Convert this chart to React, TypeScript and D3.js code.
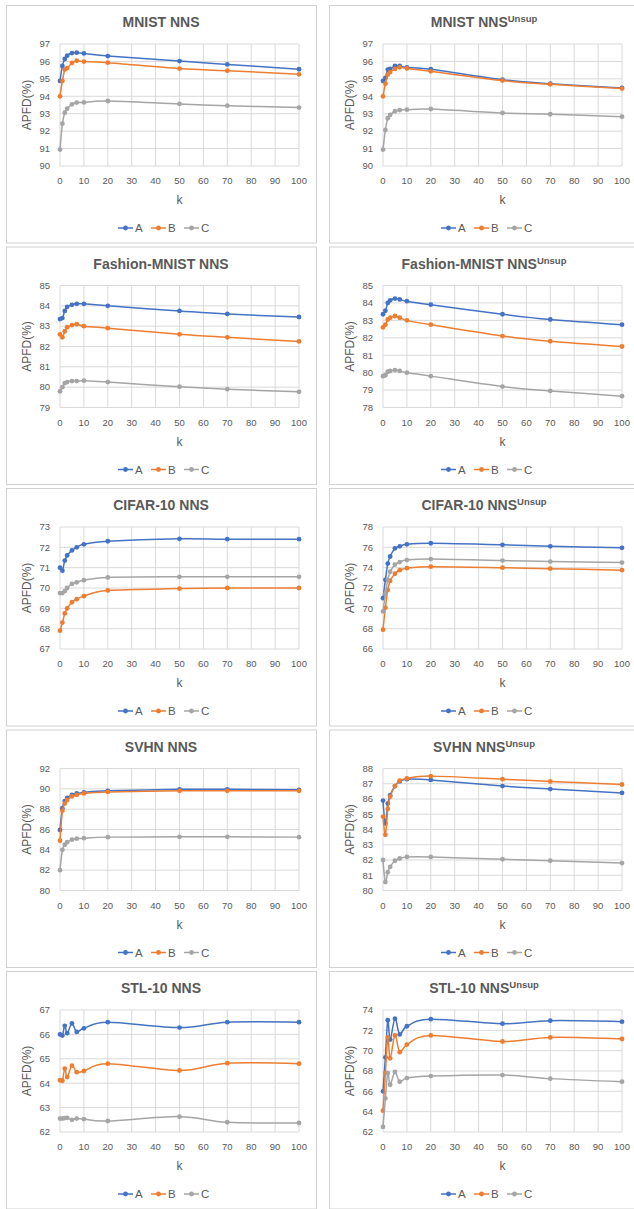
import React from "react";
import * as d3 from "d3";

// ---- data ----
const kValues = [0, 1, 2, 3, 5, 7, 10, 20, 50, 70, 100];
const seriesNames = ["A", "B", "C"];
const seriesColors = ["#4472C4", "#ED7D31", "#A5A5A5"];
const xTicks = [0, 10, 20, 30, 40, 50, 60, 70, 80, 90, 100];

const mnistNnsA = [94.88, 95.74, 96.14, 96.33, 96.48, 96.5, 96.46, 96.31, 96.02, 95.83, 95.55];
const mnistNnsB = [94.0, 94.88, 95.53, 95.62, 95.91, 96.04, 95.99, 95.93, 95.59, 95.47, 95.26];
const mnistNnsC = [90.94, 92.43, 93.06, 93.29, 93.54, 93.64, 93.65, 93.73, 93.56, 93.46, 93.35];

const mnistUnsA = [94.88, 95.05, 95.53, 95.57, 95.74, 95.74, 95.66, 95.55, 94.95, 94.72, 94.48];
const mnistUnsB = [94.0, 94.72, 95.24, 95.39, 95.57, 95.66, 95.6, 95.43, 94.9, 94.69, 94.44];
const mnistUnsC = [90.94, 92.07, 92.74, 92.93, 93.14, 93.21, 93.23, 93.27, 93.04, 92.97, 92.83];

const fashionNnsA = [83.35, 83.4, 83.75, 83.95, 84.05, 84.1, 84.1, 84.0, 83.75, 83.6, 83.45];
const fashionNnsB = [82.6, 82.45, 82.75, 82.95, 83.05, 83.1, 83.0, 82.9, 82.6, 82.45, 82.25];
const fashionNnsC = [79.8, 80.0, 80.2, 80.25, 80.3, 80.3, 80.32, 80.25, 80.02, 79.9, 79.77];

const fashionUnsA = [83.35, 83.55, 84.0, 84.15, 84.25, 84.2, 84.1, 83.9, 83.35, 83.05, 82.75];
const fashionUnsB = [82.6, 82.75, 83.05, 83.15, 83.25, 83.15, 83.0, 82.75, 82.1, 81.8, 81.5];
const fashionUnsC = [79.8, 79.85, 80.05, 80.1, 80.15, 80.1, 80.0, 79.8, 79.2, 78.95, 78.65];

const cifarNnsA = [71.0, 70.85, 71.35, 71.6, 71.85, 72.0, 72.15, 72.3, 72.42, 72.4, 72.4];
const cifarNnsB = [67.9, 68.3, 68.75, 69.0, 69.3, 69.45, 69.6, 69.88, 69.97, 70.0, 70.0];
const cifarNnsC = [69.75, 69.75, 69.85, 70.0, 70.2, 70.28, 70.38, 70.52, 70.55, 70.55, 70.55];

const cifarUnsA = [71.0, 72.8, 74.4, 75.1, 75.9, 76.1, 76.3, 76.4, 76.25, 76.1, 75.95];
const cifarUnsB = [67.9, 70.05, 71.8, 72.7, 73.4, 73.75, 73.95, 74.1, 74.0, 73.9, 73.75];
const cifarUnsC = [69.7, 71.4, 72.8, 73.6, 74.3, 74.55, 74.75, 74.85, 74.7, 74.6, 74.5];

const svhnNnsA = [85.95, 88.1, 88.8, 89.1, 89.4, 89.55, 89.65, 89.8, 89.95, 89.95, 89.9];
const svhnNnsB = [84.9, 87.85, 88.55, 88.9, 89.25, 89.4, 89.55, 89.7, 89.8, 89.8, 89.8];
const svhnNnsC = [82.0, 84.0, 84.5, 84.75, 85.0, 85.1, 85.15, 85.25, 85.28, 85.28, 85.25];

const svhnUnsA = [85.9, 84.4, 85.7, 86.25, 86.85, 87.15, 87.3, 87.25, 86.85, 86.65, 86.4];
const svhnUnsB = [84.85, 83.65, 85.35, 86.15, 86.85, 87.2, 87.35, 87.5, 87.3, 87.15, 86.95];
const svhnUnsC = [82.0, 80.55, 81.2, 81.55, 81.95, 82.1, 82.2, 82.2, 82.05, 81.95, 81.8];

const stlNnsA = [66.0, 65.95, 66.35, 66.05, 66.45, 66.1, 66.25, 66.5, 66.28, 66.5, 66.5];
const stlNnsB = [64.12, 64.1, 64.6, 64.25, 64.72, 64.45, 64.5, 64.8, 64.52, 64.82, 64.8];
const stlNnsC = [62.55, 62.55, 62.57, 62.58, 62.5, 62.55, 62.53, 62.45, 62.63, 62.4, 62.37];

const stlUnsA = [66.0, 69.35, 73.0, 71.1, 73.15, 71.6, 72.4, 73.1, 72.65, 72.95, 72.85];
const stlUnsB = [64.1, 67.8, 71.3, 69.25, 71.5, 69.85, 70.6, 71.5, 70.9, 71.3, 71.15];
const stlUnsC = [62.5, 65.3, 67.8, 66.65, 67.9, 66.95, 67.3, 67.5, 67.6, 67.25, 66.95];

const titleBases = [
  "MNIST NNS", "MNIST NNS",
  "Fashion-MNIST NNS", "Fashion-MNIST NNS",
  "CIFAR-10 NNS", "CIFAR-10 NNS",
  "SVHN NNS", "SVHN NNS",
  "STL-10 NNS", "STL-10 NNS",
];
const titleSups = ["", "Unsup", "", "Unsup", "", "Unsup", "", "Unsup", "", "Unsup"];
const yMins = [90, 90, 79, 78, 67, 66, 80, 80, 62, 62];
const yMaxs = [97, 97, 85, 85, 73, 78, 92, 88, 67, 74];
const ySteps = [1, 1, 1, 1, 1, 2, 2, 1, 1, 2];
const panelSeries = [
  [mnistNnsA, mnistNnsB, mnistNnsC],
  [mnistUnsA, mnistUnsB, mnistUnsC],
  [fashionNnsA, fashionNnsB, fashionNnsC],
  [fashionUnsA, fashionUnsB, fashionUnsC],
  [cifarNnsA, cifarNnsB, cifarNnsC],
  [cifarUnsA, cifarUnsB, cifarUnsC],
  [svhnNnsA, svhnNnsB, svhnNnsC],
  [svhnUnsA, svhnUnsB, svhnUnsC],
  [stlNnsA, stlNnsB, stlNnsC],
  [stlUnsA, stlUnsB, stlUnsC],
];

// ---- layout ----
const PW = 310;
const PH = 237.5;
const colX = [6, 329];
const rowPitch = 241.5;
const rowStart = 5;
const plotL = 54;
const plotR = 293;
const plotT = 39;
const plotB = 161;
const FONT = "'Liberation Sans', Arial, sans-serif";
const TXT = "#595959";
const GRID = "#d9d9d9";

function Panel({ idx }: { idx: number }) {
  const col = idx % 2;
  const row = Math.floor(idx / 2);
  const x0 = colX[col];
  const y0 = rowStart + row * rowPitch;
  const x = d3.scaleLinear().domain([0, 100]).range([plotL, plotR]);
  const y = d3.scaleLinear().domain([yMins[idx], yMaxs[idx]]).range([plotB, plotT]);
  const yTicks = d3.range(yMins[idx], yMaxs[idx] + ySteps[idx] / 2, ySteps[idx]);
  const line = d3
    .line<number>()
    .x((_, i) => x(kValues[i]))
    .y((v) => y(v))
    .curve(d3.curveCardinal.tension(0));
  const cx = PW / 2;
  return (
    <g transform={`translate(${x0},${y0})`}>
      <rect x={0.5} y={0.5} width={PW} height={PH} fill="#fff" stroke="#d0d0d0" strokeWidth={1} />
      <text
        x={cx}
        y={22}
        textAnchor="middle"
        fontFamily={FONT}
        fontWeight="bold"
        fontSize={14}
        fill={TXT}
      >
        {titleBases[idx]}
        {titleSups[idx] ? (
          <tspan fontSize={9.5} dy={-5}>
            {titleSups[idx]}
          </tspan>
        ) : null}
      </text>
      {/* grid */}
      {xTicks.map((t) => (
        <line key={"gx" + t} x1={x(t)} x2={x(t)} y1={plotT} y2={plotB} stroke={GRID} strokeWidth={1} />
      ))}
      {yTicks.map((t) => (
        <line key={"gy" + t} x1={plotL} x2={plotR} y1={y(t)} y2={y(t)} stroke={GRID} strokeWidth={1} />
      ))}
      {/* tick labels */}
      {yTicks.map((t) => (
        <text
          key={"ty" + t}
          x={plotL - 10}
          y={y(t)}
          dy="0.35em"
          textAnchor="end"
          fontFamily={FONT}
          fontSize={9.5}
          fill={TXT}
        >
          {t}
        </text>
      ))}
      {xTicks.map((t) => (
        <text
          key={"tx" + t}
          x={x(t)}
          y={plotB + 15}
          dy="0.35em"
          textAnchor="middle"
          fontFamily={FONT}
          fontSize={9.5}
          fill={TXT}
        >
          {t}
        </text>
      ))}
      <text
        transform={`translate(21,${(plotT + plotB) / 2}) rotate(-90)`}
        textAnchor="middle"
        dy="0.35em"
        fontFamily={FONT}
        fontSize={12}
        fill={TXT}
      >
        APFD(%)
      </text>
      <text x={(plotL + plotR) / 2} y={plotB + 34} dy="0.35em" textAnchor="middle" fontFamily={FONT} fontSize={12} fill={TXT}>
        k
      </text>
      {/* series */}
      {panelSeries[idx].map((vals, si) => (
        <g key={"s" + si}>
          <path d={line(vals) || ""} fill="none" stroke={seriesColors[si]} strokeWidth={1.5} />
          {vals.map((v, i) => (
            <circle key={i} cx={x(kValues[i])} cy={y(v)} r={2.4} fill={seriesColors[si]} />
          ))}
        </g>
      ))}
      {/* legend */}
      {seriesNames.map((nm, si) => {
        const lx = cx - 43 + si * 33;
        const ly = 223;
        return (
          <g key={"lg" + nm}>
            <line x1={lx} x2={lx + 15} y1={ly} y2={ly} stroke={seriesColors[si]} strokeWidth={1.5} />
            <circle cx={lx + 7.5} cy={ly} r={2.4} fill={seriesColors[si]} />
            <text x={lx + 17} y={ly} dy="0.35em" fontFamily={FONT} fontSize={11.5} fill={TXT}>
              {nm}
            </text>
          </g>
        );
      })}
    </g>
  );
}

export default function App() {
  return (
    <svg
      width={634}
      height={1209}
      style={{ position: "absolute", left: 0, top: 0, display: "block", background: "#fff" }}
    >
      <rect width={634} height={1209} fill="#fff" />
      {titleBases.map((_, i) => (
        <Panel key={i} idx={i} />
      ))}
    </svg>
  );
}
